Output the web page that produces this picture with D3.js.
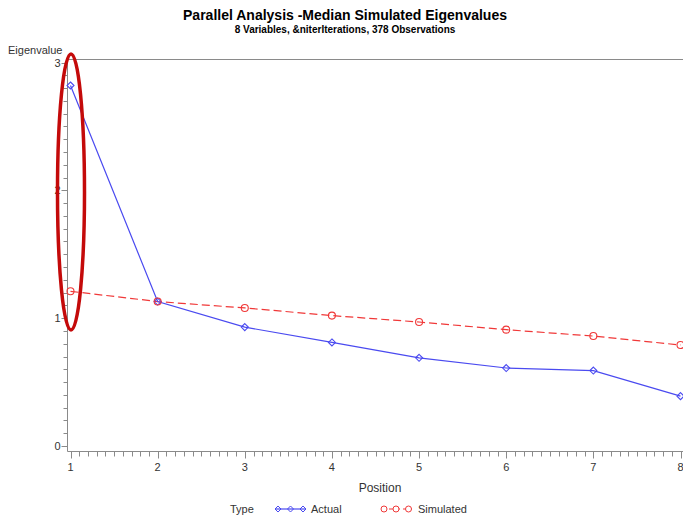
<!DOCTYPE html>
<html><head><meta charset="utf-8">
<script src="https://cdn.jsdelivr.net/npm/d3@7/dist/d3.min.js"></script>
<style>
body{margin:0;background:#fff;}
text{font-family:"Liberation Sans Narrow","Arial Narrow","Liberation Sans",Arial,sans-serif;}
</style></head>
<body><svg id="c" width="683" height="518"></svg>
<script>
const positions = [1,2,3,4,5,6,7,8];
const actual = [2.82, 1.13, 0.93, 0.81, 0.69, 0.61, 0.59, 0.39];
const simulated = [1.21, 1.13, 1.08, 1.02, 0.97, 0.91, 0.86, 0.79];
const xTicks = [1,2,3,4,5,6,7,8];
const yTicks = [0,1,2,3];
const title = "Parallel Analysis -Median Simulated Eigenvalues";
const subtitle = "8 Variables, &niterIterations, 378 Observations";

(function(){
const svg = d3.select("#c");
const x = d3.scaleLinear().domain([1,8]).range([70.5,680.5]);
const y = d3.scaleLinear().domain([0,3]).range([446,62.5]);
const pL = 67.5, pB = 451.5, pT = 59.5, pR = 683;
const axisCol = "#8a8a8a", labCol = "#333";

// frame lines
svg.append("line").attr("x1",pL).attr("x2",pR).attr("y1",pT).attr("y2",pT).attr("stroke",axisCol);
svg.append("line").attr("x1",pL).attr("x2",pL).attr("y1",pT).attr("y2",pB).attr("stroke",axisCol);
svg.append("line").attr("x1",pL).attr("x2",pR).attr("y1",pB).attr("y2",pB).attr("stroke",axisCol);

// y ticks
const yMinor = d3.range(0,30.5).map(i=>i/10);
svg.append("g").selectAll("line").data(yMinor).join("line")
  .attr("x1",pL).attr("x2",d=>Math.abs(d-Math.round(d))<1e-6?pL-6:pL-4)
  .attr("y1",d=>Math.round(y(d))+0.5).attr("y2",d=>Math.round(y(d))+0.5).attr("stroke",axisCol);
svg.append("g").selectAll("text").data(yTicks).join("text")
  .attr("x",pL-7).attr("y",d=>y(d)+4).attr("text-anchor","end")
  .attr("font-size",11).attr("fill",labCol).text(d=>d);

// x ticks
const xMinor = d3.range(10,80.5).map(i=>i/10);
svg.append("g").selectAll("line").data(xMinor).join("line")
  .attr("y1",pB).attr("y2",d=>Math.abs(d-Math.round(d))<1e-6?pB+7:pB+5)
  .attr("x1",d=>Math.round(x(d))+0.5).attr("x2",d=>Math.round(x(d))+0.5).attr("stroke",axisCol);
svg.append("g").selectAll("text").data(xTicks).join("text")
  .attr("x",d=>x(d)).attr("y",pB+19).attr("text-anchor","middle")
  .attr("font-size",11).attr("fill",labCol).text(d=>d);

// axis titles
svg.append("text").attr("x",380).attr("y",492).attr("text-anchor","middle").attr("font-size",12).attr("fill",labCol).text("Position");
svg.append("text").attr("x",8).attr("y",54).attr("font-size",11).attr("fill",labCol).text("Eigenvalue");

// titles
svg.append("text").attr("x",345).attr("y",20).attr("text-anchor","middle").attr("font-size",14).attr("font-weight","bold").attr("fill","#000")
  .attr("font-family","Liberation Sans, Arial, sans-serif").text(title);
svg.append("text").attr("x",345).attr("y",33).attr("text-anchor","middle").attr("font-size",10).attr("font-weight","bold").attr("fill","#000").text(subtitle);

const blue = "#4a4af0", red = "#f03838";
const line = d3.line().x((d,i)=>x(positions[i])).y(d=>y(d));

svg.append("path").datum(simulated).attr("d",line).attr("fill","none").attr("stroke",red).attr("stroke-width",1.2).attr("stroke-dasharray","8,4");
svg.append("path").datum(actual).attr("d",line).attr("fill","none").attr("stroke",blue).attr("stroke-width",1.2);

const diamond = (cx,cy,r)=>`M${cx},${cy-r}L${cx+r},${cy}L${cx},${cy+r}L${cx-r},${cy}Z`;
svg.append("g").selectAll("path").data(actual).join("path")
  .attr("d",(d,i)=>diamond(x(positions[i]),y(d),3.5)).attr("fill","none").attr("stroke",blue).attr("stroke-width",1.1);
svg.append("g").selectAll("circle").data(simulated).join("circle")
  .attr("cx",(d,i)=>x(positions[i])).attr("cy",d=>y(d)).attr("r",3.5).attr("fill","none").attr("stroke",red).attr("stroke-width",1.1);

// annotation ellipse
svg.append("ellipse").attr("cx",71).attr("cy",192).attr("rx",13.5).attr("ry",138)
  .attr("fill","none").attr("stroke","#c40a0a").attr("stroke-width",3.5);

// legend
const ly = 509;
svg.append("text").attr("x",230).attr("y",ly+4).attr("font-size",11).attr("fill",labCol).text("Type");
svg.append("line").attr("x1",276).attr("x2",305).attr("y1",ly).attr("y2",ly).attr("stroke",blue).attr("stroke-width",1.2);
svg.append("g").selectAll("path").data([278,290.5,303]).join("path").attr("d",d=>diamond(d,ly,3)).attr("fill","none").attr("stroke",blue);
svg.append("text").attr("x",311).attr("y",ly+4).attr("font-size",11).attr("fill",labCol).text("Actual");
svg.append("line").attr("x1",382).attr("x2",412).attr("y1",ly).attr("y2",ly).attr("stroke",red).attr("stroke-width",1.2).attr("stroke-dasharray","4,3");
svg.append("g").selectAll("circle").data([384,396,408.5]).join("circle").attr("cx",d=>d).attr("cy",ly).attr("r",3).attr("fill","#fff").attr("stroke",red);
svg.append("text").attr("x",418).attr("y",ly+4).attr("font-size",11).attr("fill",labCol).text("Simulated");
})();
</script></body></html>
